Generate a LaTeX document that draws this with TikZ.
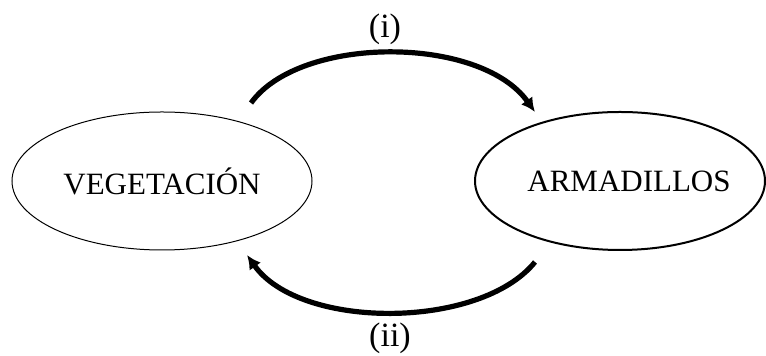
\documentclass[tikz,border=0pt]{standalone}
\usepackage{fontspec}
\setmainfont{Liberation Serif}
\usetikzlibrary{arrows.meta,shapes.geometric,calc}
\tikzset{
  >=Latex,
  font=\fontsize{15.5}{18}\selectfont,
  species/.style={draw,ellipse,line width=0.5pt,minimum width=150pt,
                  minimum height=69pt,inner sep=0pt,align=center},
  flow/.style={->,line width=2.6pt,
               arrows={-Latex[length=7pt,width=7pt]}},
  flowlbl/.style={inner sep=1pt,font=\fontsize{17}{20}\selectfont},
}
\begin{document}
\begin{tikzpicture}[x=0.5pt,y=-0.5pt]
  \useasboundingbox (0,0) rectangle (766,356);

  % ---- the two ellipses ----
  \node[species] (veg) at (162,181) {VEGETACIÓN};
  \node[species,line width=1pt,minimum width=145pt] (arm) at (620,181) {};
  \node (armtxt) at (629,181) {ARMADILLOS};

  % ---- interaction arrows ----
  \coordinate (iStart) at ($(veg.center)+(89,-78)$);
  \coordinate (iEnd) at ($(arm.center)+(-85,-69)$);
  \draw[flow] (iStart) .. controls (300,35) and (480,35) .. (iEnd);
  \node[flowlbl] (lbli) at (385,29) {(i)};

  \coordinate (iiStart) at ($(arm.center)+(-85,81)$);
  \coordinate (iiEnd) at ($(veg.center)+(85,74)$);
  \draw[flow] (iiStart) .. controls (480,330) and (300,330) .. (iiEnd);
  \node[flowlbl] (lblii) at (390,338) {(ii)};
\end{tikzpicture}
\end{document}
